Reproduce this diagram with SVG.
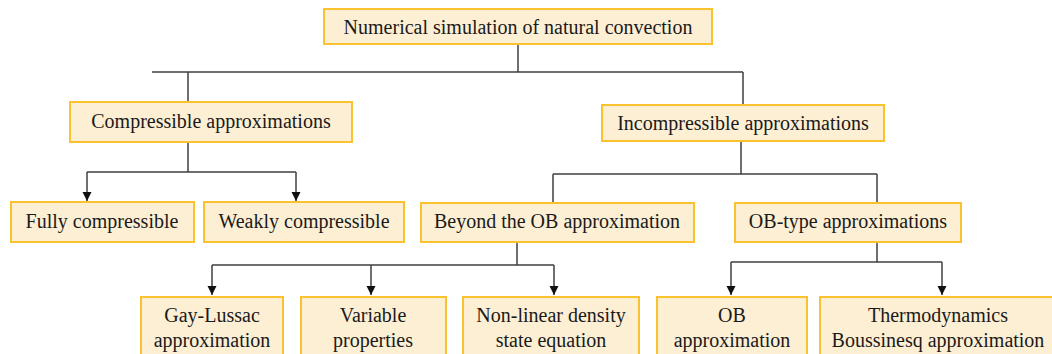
<svg xmlns="http://www.w3.org/2000/svg" width="1052" height="354" viewBox="0 0 1052 354">
<style>
.box{fill:#FDEFD4;stroke:#F9C22E;stroke-width:2}
.t{font-family:'Liberation Serif','Times New Roman',Times,'DejaVu Serif',serif;font-size:20px;fill:#1a1a1a;text-anchor:middle}
.c{fill:none;stroke:#404040;stroke-width:1.5}
</style>
<defs>
<marker id="ah" markerWidth="10" markerHeight="10" refX="9" refY="5" orient="auto" markerUnits="userSpaceOnUse" viewBox="0 0 10 10">
<path d="M0,0.5 L9,5 L0,9.5 Z" fill="#111"/>
</marker>
</defs>
<rect width="1052" height="354" fill="#fff"/>
<g id="connectors">
<path class="c" d="M518,44 V72 M152,72 H743 M188,72 V102 M743,72 V105"/>
<path class="c" d="M188,142 V172 M87,172 H296"/>
<path class="c" d="M87,172 V201" marker-end="url(#ah)"/>
<path class="c" d="M296,172 V201" marker-end="url(#ah)"/>
<path class="c" d="M741,141 V174 M553,174 H877 M553,174 V203 M877,174 V203"/>
<path class="c" d="M517,242 V265 M212,265 H554"/>
<path class="c" d="M212,265 V295" marker-end="url(#ah)"/>
<path class="c" d="M371,265 V295" marker-end="url(#ah)"/>
<path class="c" d="M554,265 V295" marker-end="url(#ah)"/>
<path class="c" d="M877,242 V262 M731,262 H942"/>
<path class="c" d="M731,262 V295" marker-end="url(#ah)"/>
<path class="c" d="M942,262 V295" marker-end="url(#ah)"/>
</g>
<g id="n-root"><rect class="box" x="324" y="9" width="388" height="35"/><text class="t" x="518" y="34">Numerical simulation of natural convection</text></g>
<g id="n-comp"><rect class="box" x="70" y="102" width="282" height="40"/><text class="t" x="211" y="128">Compressible approximations</text></g>
<g id="n-incomp"><rect class="box" x="602" y="105" width="282" height="36"/><text class="t" x="743" y="130">Incompressible approximations</text></g>
<g id="n-fully"><rect class="box" x="11" y="202" width="183" height="40"/><text class="t" x="102" y="228">Fully compressible</text></g>
<g id="n-weakly"><rect class="box" x="204" y="202" width="200" height="40"/><text class="t" x="304" y="228">Weakly compressible</text></g>
<g id="n-beyond"><rect class="box" x="421" y="203" width="273" height="39"/><text class="t" x="557" y="228">Beyond the OB approximation</text></g>
<g id="n-obtype"><rect class="box" x="735" y="203" width="226" height="39"/><text class="t" x="848" y="228">OB-type approximations</text></g>
<g id="n-gay"><rect class="box" x="141" y="297" width="142" height="64"/><text class="t" x="212" y="322">Gay-Lussac</text><text class="t" x="212" y="347">approximation</text></g>
<g id="n-var"><rect class="box" x="301" y="297" width="145" height="64"/><text class="t" x="373" y="322">Variable</text><text class="t" x="373" y="347">properties</text></g>
<g id="n-nonlin"><rect class="box" x="463" y="297" width="176" height="64"/><text class="t" x="551" y="322">Non-linear density</text><text class="t" x="551" y="347">state equation</text></g>
<g id="n-ob"><rect class="box" x="657" y="297" width="150" height="64"/><text class="t" x="732" y="322">OB</text><text class="t" x="732" y="347">approximation</text></g>
<g id="n-thermo"><rect class="box" x="820" y="297" width="240" height="64"/><text class="t" x="938" y="322">Thermodynamics</text><text class="t" x="938" y="347">Boussinesq approximation</text></g>
</svg>
